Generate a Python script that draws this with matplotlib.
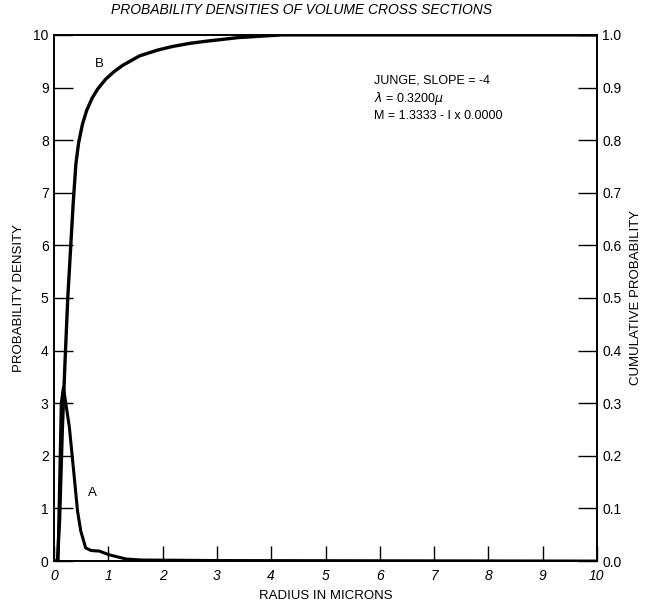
import numpy as np
import matplotlib.pyplot as plt

# curve A : probability density (left axis)
radius_a = [0.0, 0.07, 0.10, 0.13, 0.17, 0.28, 0.37, 0.43, 0.49, 0.58, 0.68,
            0.83, 1.01, 1.32, 1.60, 3.0, 10.0]
density_a = [0.0, 0.0, 1.5, 3.0, 3.3, 2.54, 1.59, 0.95, 0.57, 0.25, 0.20,
             0.19, 0.12, 0.04, 0.02, 0.01, 0.0]

# curve B : cumulative probability (right axis)
radius_b = [0.0, 0.06, 0.10, 0.15, 0.20, 0.25, 0.30, 0.35, 0.40, 0.45, 0.52,
            0.60, 0.70, 0.80, 0.95, 1.10, 1.26, 1.57, 1.90, 2.18, 2.50, 2.80,
            3.40, 4.20, 10.0]
cum_b = [0.0, 0.0, 0.08, 0.25, 0.38, 0.50, 0.59, 0.68, 0.755, 0.795, 0.83,
         0.857, 0.88, 0.897, 0.916, 0.93, 0.942, 0.960, 0.971, 0.978, 0.984,
         0.988, 0.995, 1.0, 1.0]

xticks = np.arange(0, 11, 1)
yticks_left = np.arange(0, 11, 1)
yticks_right = np.round(np.arange(0, 1.01, 0.1), 1)

plt.rcParams['font.family'] = ['Liberation Sans', 'DejaVu Sans']

fig = plt.figure(figsize=(6.53, 6.02), dpi=100)
ax = fig.add_axes([0.083, 0.068, 0.831, 0.874])
ax2 = ax.twinx()

ax.plot(radius_a, density_a, color='black', lw=2.2)
ax2.plot(radius_b, cum_b, color='black', lw=2.4)

ax.set_xlim(0, 10)
ax.set_ylim(0, 10)
ax2.set_ylim(0, 1.0)

ax.set_xticks(xticks)
ax.set_xticklabels([str(v) for v in xticks], style='italic')
ax.set_yticks(yticks_left)
ax2.set_yticks(yticks_right)
ax2.set_yticklabels(['%.1f' % v for v in yticks_right])

ax.tick_params(axis='x', direction='in', length=11, width=1, labelsize=10, pad=6, top=False)
ax.tick_params(axis='y', direction='in', length=14, width=1, labelsize=10, pad=4)
ax2.tick_params(axis='y', direction='in', length=14, width=1, labelsize=10, pad=4)

for a in (ax, ax2):
    for s in a.spines.values():
        s.set_linewidth(1.2)

ax.set_xlabel('RADIUS IN MICRONS', fontsize=9.5, labelpad=5)
ax.set_ylabel('PROBABILITY DENSITY', fontsize=9.5, labelpad=6)
ax2.set_ylabel('CUMULATIVE PROBABILITY', fontsize=9.5, labelpad=6)
ax.text(0.455, 1.035, 'PROBABILITY DENSITIES OF VOLUME CROSS SECTIONS',
        transform=ax.transAxes, fontsize=10, style='italic',
        ha='center', va='bottom')

ax.text(0.75, 9.45, 'B', fontsize=9.5, ha='left', va='center')
ax.text(0.62, 1.3, 'A', fontsize=9.5, ha='left', va='center')
ax.text(5.9, 8.8, 'JUNGE, SLOPE = -4\n$\\lambda$ = 0.3200$\\mu$\nM = 1.3333 - I x 0.0000',
        fontsize=9, ha='left', va='center', linespacing=1.3)

plt.savefig('out.png', dpi=100)
